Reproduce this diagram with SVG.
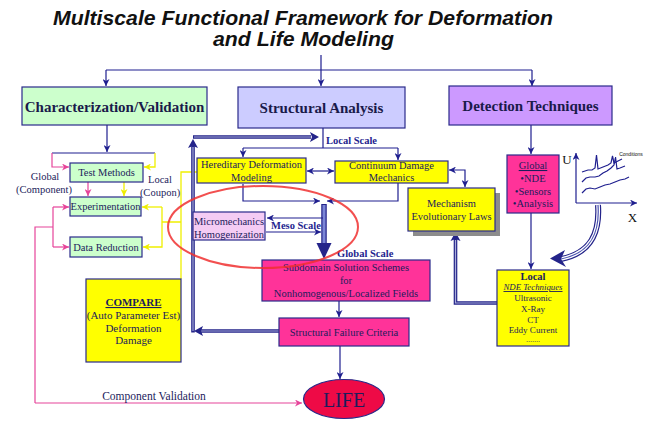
<svg xmlns="http://www.w3.org/2000/svg" width="647" height="424" viewBox="0 0 647 424">
<style>
.bx{stroke:#2a2a8a;stroke-width:1.2}
.t{font-family:"Liberation Serif","Times New Roman",serif;fill:#1c1c5c;text-anchor:middle}
.hd{font-size:15px;font-weight:bold;fill:#1a1a4a}
.s{font-size:10.5px}
.lb{font-family:"Liberation Serif","Times New Roman",serif;font-size:10.5px;font-weight:bold;fill:#1f1f8f}
.c{stroke:#1f1f8f;stroke-width:1.2;fill:none}
.cp{stroke:#e6449a;stroke-width:1.2;fill:none}
.cy{stroke:#f0f000;stroke-width:1.3;fill:none}
.dbo{stroke:#24248a;stroke-width:3.6;fill:none}
.dbi{stroke:#a8acd8;stroke-width:1.2;fill:none}
</style>
<defs>
<marker id="an" viewBox="0 0 10 10" refX="10" refY="5" markerWidth="8" markerHeight="7" markerUnits="userSpaceOnUse" orient="auto-start-reverse"><path d="M0,0 L10,5 L0,10 L3,5 z" fill="#1f1f8f"/></marker>
<marker id="ap" viewBox="0 0 10 10" refX="10" refY="5" markerWidth="8" markerHeight="7" markerUnits="userSpaceOnUse" orient="auto-start-reverse"><path d="M0,0 L10,5 L0,10 L3,5 z" fill="#e6449a"/></marker>
<marker id="ay" viewBox="0 0 10 10" refX="10" refY="5" markerWidth="8" markerHeight="7" markerUnits="userSpaceOnUse" orient="auto-start-reverse"><path d="M0,0 L10,5 L0,10 L3,5 z" fill="#eeee00"/></marker>
</defs>
<rect width="647" height="424" fill="#ffffff"/>

<g id="title" font-family="'Liberation Sans',Arial,sans-serif" font-weight="bold" font-style="italic" font-size="19.5" fill="#111" text-anchor="middle">
<text x="303" y="25" textLength="500" lengthAdjust="spacingAndGlyphs">Multiscale Functional Framework for Deformation</text>
<text x="303.5" y="46" textLength="181" lengthAdjust="spacingAndGlyphs">and Life Modeling</text>
</g>

<g id="connectors">
<path class="c" d="M321,55 V70 M106,70 H532"/>
<path class="c" d="M106,70 V86" marker-end="url(#an)"/>
<path class="c" d="M321,70 V86" marker-end="url(#an)"/>
<path class="c" d="M532,70 V86" marker-end="url(#an)"/>
<path class="c" d="M107,125 V152" marker-end="url(#an)"/>
<path class="c" d="M52,153 H155"/>
<path class="cp" d="M52,153 V167 H69" marker-end="url(#ap)"/>
<path class="cy" d="M155,153 V167 H144" marker-end="url(#ay)"/>
<path class="cp" d="M88,182 V196" marker-end="url(#ap)"/>
<path class="cy" d="M124,182 V196" marker-end="url(#ay)"/>
<path class="cp" d="M35,403 V227 H53 M53,207 V247"/>
<path class="cp" d="M53,207 H69" marker-end="url(#ap)"/>
<path class="cp" d="M53,247 H69" marker-end="url(#ap)"/>
<path class="cp" d="M35,403 H302" marker-end="url(#ap)"/>
<path class="cy" d="M162,207 H142" marker-end="url(#ay)"/>
<path class="cy" d="M162,207 V247 H143" marker-end="url(#ay)"/>
<path class="cy" d="M162,222 H181 M197,172 H181 V279"/>
<path class="dbo" d="M279,331 H200 M193,332.5 V146 M193,137 H311"/>
<path class="dbi" d="M279,331 H200 M193,331 V147 M194,137 H311"/>
<polygon points="193,139 198,148 193,146 188,148" fill="#24248a"/>
<polygon points="319,137 310,132 312,137 310,142" fill="#24248a"/>
<polygon points="194,331 203,326 201,331 203,336" fill="#24248a"/>
<path class="c" d="M323,128 V148 M243,148 H398"/>
<path class="c" d="M243,148 V157" marker-end="url(#an)"/>
<path class="c" d="M398,148 V160" marker-end="url(#an)"/>
<path class="c" d="M307,171 H334" marker-start="url(#an)" marker-end="url(#an)"/>
<path class="c" d="M243,184 V201 H320" marker-end="url(#an)"/>
<path class="c" d="M398,183 V201 H327" marker-end="url(#an)"/>
<path d="M324,204 V246" stroke="#24248a" stroke-width="5.5" fill="none"/>
<path d="M324,205 V246" stroke="#7c86d6" stroke-width="3" fill="none"/>
<polygon points="316.5,243 331.5,243 324,259" fill="#24248a"/>
<path class="c" d="M323,218 H267" marker-end="url(#an)"/>
<path class="c" d="M266,232 H321" marker-end="url(#an)"/>
<path class="c" d="M339,301 V317" marker-end="url(#an)"/>
<path class="c" d="M340,346 V379" marker-end="url(#an)"/>
<path class="c" d="M449,170 H465 V187" marker-start="url(#an)" marker-end="url(#an)"/>
<path class="dbo" d="M497,303 H455.5 V239"/>
<path class="dbi" d="M497,303 H455.5 V240"/>
<polygon points="455.5,232 460.5,241 455.5,239 450.5,241" fill="#24248a"/>
<path class="c" d="M531,125 V154" marker-end="url(#an)"/>
<path class="c" d="M531,213 V269" marker-end="url(#an)"/>
<path d="M598,205 C600,233 591,253 561,259" stroke="#24248a" stroke-width="6" fill="none"/>
<path d="M598,205 C600,233 591,253 561,259" stroke="#ffffff" stroke-width="3.6" fill="none"/>
<path d="M598,205 C600,233 591,253 561,259" stroke="#4a52b0" stroke-width="1.2" fill="none"/>
<polygon points="550,258.5 565,250 561,259 566,267" fill="#24248a"/>
</g>

<g id="labels">
<text class="t s" x="45" y="180">Global</text>
<text class="t s" x="44" y="193">(Component)</text>
<text class="t s" x="160" y="183">Local</text>
<text class="t s" x="160" y="196">(Coupon)</text>
<text class="lb" x="326" y="144">Local  Scale</text>
<text class="lb" x="271" y="229" font-size="10">Meso Scale</text>
<text class="lb" x="337" y="257">Global Scale</text>
<text class="t" font-size="11.5" x="154" y="400">Component Validation</text>
</g>

<g id="char"><rect class="bx" x="22" y="87" width="185" height="38" fill="#ccffcc"/><text class="t hd" x="114.5" y="112">Characterization/Validation</text></g>
<g id="structural"><rect class="bx" x="238" y="87" width="167" height="41" fill="#ccccff"/><text class="t hd" x="321.5" y="113">Structural Analysis</text></g>
<g id="detection"><rect class="bx" x="449" y="86" width="163" height="39" fill="#cc99ff"/><text class="t hd" x="530.5" y="111">Detection Techniques</text></g>

<g id="testMethods"><rect class="bx" x="70" y="163" width="73" height="19" fill="#ccffcc"/><text class="t s" x="106.5" y="176">Test Methods</text></g>
<g id="experimentation"><rect class="bx" x="70" y="197" width="71" height="19" fill="#ccffcc"/><text class="t s" x="105.5" y="210">Experimentation</text></g>
<g id="dataReduction"><rect class="bx" x="70" y="237" width="72" height="20" fill="#ccffcc"/><text class="t s" x="106" y="251">Data Reduction</text></g>

<g id="compare"><rect class="bx" x="86" y="279" width="95" height="83" fill="#ffff00"/>
<text class="t" font-size="11" x="133.5" y="306" font-weight="bold" text-decoration="underline" fill="#222">COMPARE</text>
<text class="t" font-size="11" x="133.5" y="319" fill="#222">(Auto Parameter  Est)</text>
<text class="t" font-size="11" x="133.5" y="331.5" fill="#222">Deformation</text>
<text class="t" font-size="11" x="133.5" y="344" fill="#222">Damage</text></g>

<g id="hereditary"><rect class="bx" x="197" y="158" width="109" height="25" fill="#ffff00"/>
<text class="t s" x="251.5" y="168" fill="#222">Hereditary Deformation</text>
<text class="t s" x="251.5" y="180.5" fill="#222">Modeling</text></g>
<g id="continuum"><rect class="bx" x="335" y="161" width="113" height="22" fill="#ffff00"/>
<text class="t s" x="391.5" y="169" fill="#222">Continuum Damage</text>
<text class="t s" x="391.5" y="181" fill="#222">Mechanics</text></g>
<g id="micromechanics"><rect class="bx" x="193" y="212" width="72" height="28" fill="#f4ccf4"/>
<text class="t s" x="229" y="225">Micromechanics</text>
<text class="t s" x="229" y="237.5">Homogenization</text></g>
<g id="mechanism"><rect x="413" y="193" width="87" height="43" fill="#8c8c8c"/><rect class="bx" x="408" y="188" width="87" height="43" fill="#ffff00"/>
<text class="t s" x="451.5" y="207" fill="#222">Mechanism</text>
<text class="t s" x="451.5" y="220" fill="#222">Evolutionary Laws</text></g>
<g id="subdomain"><rect class="bx" x="262" y="260" width="168" height="41" fill="#ff3399"/>
<text class="t s" x="346" y="271">Subdomain Solution Schemes</text>
<text class="t s" x="346" y="284">for</text>
<text class="t s" x="346" y="296.5">Nonhomogenous/Localized Fields</text></g>
<g id="failure"><rect class="bx" x="279" y="318" width="130" height="28" fill="#ff3399"/>
<text class="t s" x="344" y="336">Structural Failure Criteria</text></g>
<g id="life"><ellipse class="bx" cx="344" cy="399" rx="40.5" ry="19.5" fill="#ee0a46"/>
<text class="t" font-size="20" x="344" y="406.5" fill="#ffffff">LIFE</text></g>

<g id="globalNde"><rect class="bx" x="507" y="155" width="52" height="58" fill="#ff3399"/>
<text class="t s" x="533" y="169" text-decoration="underline">Global</text>
<text class="t s" x="533" y="182">•NDE</text>
<text class="t s" x="533" y="195">•Sensors</text>
<text class="t s" x="533" y="207">•Analysis</text></g>
<g id="localNde"><rect class="bx" x="497" y="270" width="72" height="76" fill="#ffff00"/>
<text class="t" font-size="10.5" font-weight="bold" x="533" y="279.5" fill="#111">Local</text>
<text class="t" font-size="8.8" font-style="italic" text-decoration="underline" x="533" y="290" fill="#111">NDE Techniques</text>
<text class="t" font-size="9" x="533" y="301" fill="#111">Ultrasonic</text>
<text class="t" font-size="9" x="533" y="312" fill="#111">X-Ray</text>
<text class="t" font-size="9" x="533" y="322.5" fill="#111">CT</text>
<text class="t" font-size="9" x="533" y="333" fill="#111">Eddy Current</text>
<text class="t" font-size="8" x="533" y="342" fill="#999">.......</text></g>

<g id="chart">
<path class="c" d="M576,203 V153" marker-end="url(#an)"/>
<path class="c" d="M576,203 H637" marker-end="url(#an)"/>
<polyline class="c" points="582,172 588,170 592,170 595,168 596.5,155 598,169 603,167 608,165 611,163 612.5,156 614,163 618,161 622,159"/>
<polyline class="c" points="582,182 586,178 590,177 595,177 599,176 603,173 607,171 611,168 614,165 615.5,157 617,169 620,168 625,166"/>
<polyline class="c" points="582,193 586,189 590,188 595,189 600,187 605,185 610,184 615,182 620,180 625,179 629,177"/>
<text x="567" y="164" font-family="'Liberation Serif',serif" font-size="13" fill="#111" text-anchor="middle">U</text>
<text x="632.5" y="222" font-family="'Liberation Serif',serif" font-size="13" fill="#111" text-anchor="middle">X</text>
<text x="631" y="156" font-family="'Liberation Sans',sans-serif" font-size="5" fill="#111" text-anchor="middle">Conditions</text>
</g>

<g id="highlight"><ellipse cx="263" cy="227" rx="95" ry="41" fill="none" stroke="#f03030" stroke-opacity="0.85" stroke-width="2"/></g>
</svg>
